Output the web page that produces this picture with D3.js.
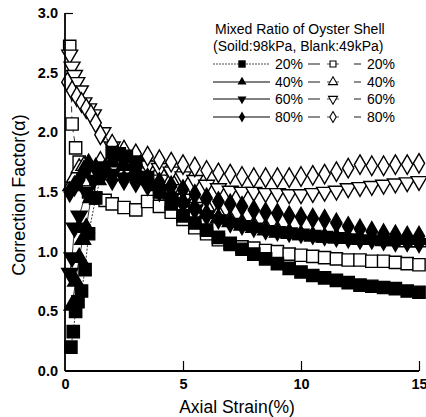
<!DOCTYPE html>
<html><head><meta charset="utf-8">
<script src="https://cdn.jsdelivr.net/npm/d3@7"></script>
<style>body{margin:0;background:#fff}svg{display:block}text{font-family:"Liberation Sans",Arial,sans-serif;fill:#000}</style>
</head><body><svg id="c" width="426" height="417"></svg>
<script>
// ---- data ----
const xTicks = [0, 5, 10, 15];
const yTicks = [0.0, 0.5, 1.0, 1.5, 2.0, 2.5, 3.0];
const legendTitle = ["Mixed Ratio of Oyster Shell", "(Soild:98kPa, Blank:49kPa)"];
const ratioLabels = ["20%", "40%", "60%", "80%"];

const xS20 = [0.25,0.35,0.45,0.55,0.7,0.85,1.0,1.3,1.6,2.0,2.3,2.6,3.0,3.5,4.0,4.5,5.0,5.5,6.0,6.5,7.0,7.5,8.0,8.5,9.0,9.5,10,10.5,11,11.5,12,12.5,13,13.5,14,14.5,15];
const yS20 = [0.20,0.33,0.50,0.58,0.67,0.85,1.15,1.45,1.70,1.83,1.82,1.80,1.75,1.62,1.50,1.40,1.30,1.24,1.18,1.12,1.07,1.02,0.98,0.94,0.90,0.86,0.83,0.80,0.78,0.76,0.74,0.72,0.71,0.70,0.69,0.67,0.66];

const xS40 = [0.3,0.45,0.6,0.75,0.9,1.1,1.4,1.7,2.0,2.5,3.0,3.5,4.0,4.5,5.0,5.5,6.0,6.5,7.0,7.5,8.0,8.5,9.0,9.5,10,10.5,11,11.5,12,12.5,13,13.5,14,14.5,15];
const yS40 = [0.55,0.75,0.95,1.10,1.20,1.45,1.60,1.70,1.75,1.72,1.68,1.62,1.55,1.48,1.42,1.37,1.32,1.28,1.25,1.22,1.20,1.18,1.16,1.15,1.14,1.13,1.12,1.12,1.11,1.11,1.10,1.10,1.10,1.10,1.10];

const xS60 = [0.2,0.3,0.4,0.6,0.9,1.2,1.6,2.0,2.5,3.0,3.5,4.0,4.5,5.0,5.5,6.0,6.5,7.0,7.5,8.0,8.5,9.0,9.5,10,10.5,11,11.5,12,12.5,13,13.5,14,14.5,15];
const yS60 = [0.82,0.95,1.20,1.30,1.50,1.60,1.65,1.65,1.62,1.60,1.55,1.50,1.45,1.40,1.35,1.30,1.27,1.24,1.22,1.20,1.18,1.17,1.16,1.15,1.14,1.13,1.12,1.11,1.10,1.10,1.09,1.08,1.08,1.07];

const xS80 = [0.2,0.4,0.6,0.8,1.0,1.3,1.6,2.0,2.5,3.0,3.5,4.0,4.5,5.0,5.5,6.0,6.5,7.0,7.5,8.0,8.5,9.0,9.5,10,10.5,11,11.5,12,12.5,13,13.5,14,14.5,15];
const yS80 = [1.50,1.55,1.60,1.68,1.72,1.70,1.65,1.60,1.60,1.58,1.60,1.58,1.55,1.52,1.48,1.45,1.42,1.40,1.38,1.35,1.33,1.32,1.30,1.29,1.28,1.27,1.24,1.21,1.19,1.17,1.15,1.14,1.13,1.13];

const xB20 = [0.2,0.3,0.45,0.6,0.8,1.0,1.3,1.7,2.0,2.5,3.0,3.5,4.0,4.5,5.0,5.5,6.0,6.5,7.0,7.5,8.0,8.5,9.0,9.5,10,10.5,11,11.5,12,12.5,13,13.5,14,14.5,15];
const yB20 = [2.72,2.07,1.87,1.75,1.60,1.50,1.45,1.43,1.40,1.37,1.35,1.42,1.38,1.33,1.27,1.20,1.15,1.10,1.06,1.04,1.03,1.01,1.00,0.98,0.97,0.96,0.95,0.94,0.93,0.93,0.92,0.92,0.91,0.90,0.89];

const xB40 = [0.25,0.4,0.6,0.8,1.0,1.5,2.0,2.5,3.0,3.5,4.0,4.5,5.0,5.5,6.0,6.5,7.0,7.5,8.0,8.5,9.0,9.5,10,10.5,11,11.5,12,12.5,13,13.5,14,14.5,15];
const yB40 = [1.55,1.62,1.70,1.72,1.74,1.76,1.78,1.80,1.80,1.75,1.68,1.60,1.52,1.45,1.38,1.32,1.27,1.24,1.22,1.20,1.18,1.16,1.14,1.13,1.12,1.11,1.11,1.10,1.10,1.09,1.09,1.08,1.08];

const xB60 = [0.2,0.3,0.4,0.5,0.65,0.8,1.0,1.2,1.6,2.0,2.5,3.0,3.5,4.0,4.5,5.0,5.5,6.0,6.5,7.0,7.5,8.0,8.5,9.0,9.5,10,10.5,11,11.5,12,12.5,13,13.5,14,14.5,15];
const yB60 = [2.65,2.55,2.48,2.42,2.35,2.25,2.20,2.15,2.00,1.88,1.80,1.75,1.72,1.70,1.67,1.63,1.60,1.56,1.53,1.51,1.50,1.50,1.49,1.49,1.48,1.48,1.49,1.50,1.51,1.53,1.54,1.55,1.56,1.57,1.58,1.59];

const xB80 = [0.1,0.3,0.5,0.7,0.9,1.1,1.3,1.5,2.0,2.5,3.0,3.5,4.0,4.5,5.0,5.5,6.0,6.5,7.0,7.5,8.0,8.5,9.0,9.5,10,10.5,11,11.5,12,12.5,13,13.5,14,14.5,15];
const yB80 = [2.42,2.35,2.30,2.25,2.20,2.15,2.08,1.98,1.90,1.85,1.82,1.80,1.77,1.75,1.73,1.71,1.68,1.66,1.65,1.63,1.62,1.62,1.62,1.62,1.63,1.64,1.65,1.67,1.70,1.73,1.72,1.72,1.73,1.73,1.74];

// ---- layout ----
const svg = d3.select("#c");
const x = d3.scaleLinear().domain([0, 15]).range([65, 419]);
const y = d3.scaleLinear().domain([0, 3]).range([371, 13]);

const series = [
  {xs:xS20, ys:yS20, sym:d3.symbolSquare, size:150, rot:0, fill:"#000", dash:"2,1.5"},
  {xs:xS40, ys:yS40, sym:d3.symbolTriangle, size:110, rot:0, fill:"#000", dash:null},
  {xs:xS60, ys:yS60, sym:d3.symbolTriangle, size:110, rot:180, fill:"#000", dash:null},
  {xs:xS80, ys:yS80, sym:d3.symbolDiamond, size:110, rot:0, fill:"#000", dash:null},
  {xs:xB20, ys:yB20, sym:d3.symbolSquare, size:150, rot:0, fill:"#fff", dash:"6,4"},
  {xs:xB40, ys:yB40, sym:d3.symbolTriangle, size:110, rot:0, fill:"#fff", dash:"6,4"},
  {xs:xB60, ys:yB60, sym:d3.symbolTriangle, size:110, rot:180, fill:"#fff", dash:"6,4"},
  {xs:xB80, ys:yB80, sym:d3.symbolDiamond, size:110, rot:0, fill:"#fff", dash:"6,4"}
];

const line = d3.line().x(d => x(d[0])).y(d => y(d[1]));
const gPlot = svg.append("g");
series.forEach(s => {
  const pts = s.xs.map((v, i) => [v, s.ys[i]]);
  gPlot.append("path").attr("d", line(pts)).attr("fill", "none")
    .attr("stroke", "#000").attr("stroke-width", 0.8)
    .attr("stroke-dasharray", s.dash);
});
const order = [4, 5, 6, 7, 0, 1, 2, 3];
order.forEach(k => {
  const s = series[k];
  const pts = s.xs.map((v, i) => [v, s.ys[i]]);
  gPlot.selectAll(null).data(pts).enter().append("path")
    .attr("d", d3.symbol().type(s.sym).size(s.size))
    .attr("transform", d => `translate(${x(d[0])},${y(d[1])}) rotate(${s.rot})`)
    .attr("fill", s.fill).attr("stroke", "#000").attr("stroke-width", 1.4);
});

// axes
const yAxis = d3.axisLeft(y).tickValues(yTicks).tickFormat(d3.format(".1f")).tickSize(-8).tickPadding(7);
const gy = svg.append("g").attr("transform", "translate(65,0)").call(yAxis);
const xAxis = d3.axisBottom(x).tickValues(xTicks).tickFormat(d3.format("d")).tickSize(-10).tickPadding(8);
const gx = svg.append("g").attr("transform", "translate(0,371)").call(xAxis);
[gx, gy].forEach(g => {
  g.select(".domain").remove();
  g.selectAll(".tick line").attr("stroke", "#000").attr("stroke-width", 1.2);
  g.selectAll(".tick text").attr("font-size", 14.5).attr("font-weight", "bold")
    .style("font-family", '"Liberation Sans", Arial, sans-serif');
});
svg.append("line").attr("x1", 65).attr("x2", 65).attr("y1", y(3)).attr("y2", y(0)).attr("stroke", "#000").attr("stroke-width", 1.8);
svg.append("line").attr("x1", 65).attr("x2", 419).attr("y1", y(0)).attr("y2", y(0)).attr("stroke", "#000").attr("stroke-width", 1.8);
gy.selectAll(".tick line").filter(d => d !== 3).remove();
gx.selectAll(".tick line").filter(d => d === 0).remove();

// axis titles
svg.append("text").attr("x", 237).attr("y", 413).attr("text-anchor", "middle")
  .attr("font-size", 17.5).text("Axial Strain(%)");
svg.append("text").attr("transform", "translate(25,195) rotate(-90)").attr("text-anchor", "middle")
  .attr("font-size", 18).text("Correction Factor(\u03b1)");

// legend
const lg = svg.append("g");
lg.append("text").attr("x", 215).attr("y", 34).attr("font-size", 14).text(legendTitle[0]);
lg.append("text").attr("x", 213).attr("y", 51).attr("font-size", 14).text(legendTitle[1]);
const rowY = [64, 82, 99, 117];
ratioLabels.forEach((lab, i) => {
  const yy = rowY[i];
  const s = series[i], b = series[i + 4];
  lg.append("line").attr("x1", 213).attr("x2", 270).attr("y1", yy).attr("y2", yy)
    .attr("stroke", "#000").attr("stroke-width", i === 0 ? 0.7 : 1).attr("stroke-dasharray", i === 0 ? "2,1" : null);
  lg.append("path").attr("d", d3.symbol().type(s.sym).size(i === 0 ? 55 : 35))
    .attr("transform", `translate(242,${yy}) rotate(${s.rot})`).attr("fill", "#000");
  lg.append("text").attr("x", 275).attr("y", yy + 5).attr("font-size", 14).text(lab);
  lg.append("line").attr("x1", 308).attr("x2", 320).attr("y1", yy).attr("y2", yy).attr("stroke", "#000").attr("stroke-width", 0.9);
  lg.append("line").attr("x1", 327).attr("x2", 339).attr("y1", yy).attr("y2", yy).attr("stroke", "#000").attr("stroke-width", 0.7);
  lg.append("path").attr("d", d3.symbol().type(b.sym).size(35))
    .attr("transform", `translate(333,${yy}) rotate(${b.rot})`).attr("fill", "#fff").attr("stroke", "#000").attr("stroke-width", 1.1);
  lg.append("line").attr("x1", 354).attr("x2", 361).attr("y1", yy).attr("y2", yy).attr("stroke", "#000").attr("stroke-width", 0.9);
  lg.append("text").attr("x", 367).attr("y", yy + 5).attr("font-size", 14).text(lab);
});
</script></body></html>
